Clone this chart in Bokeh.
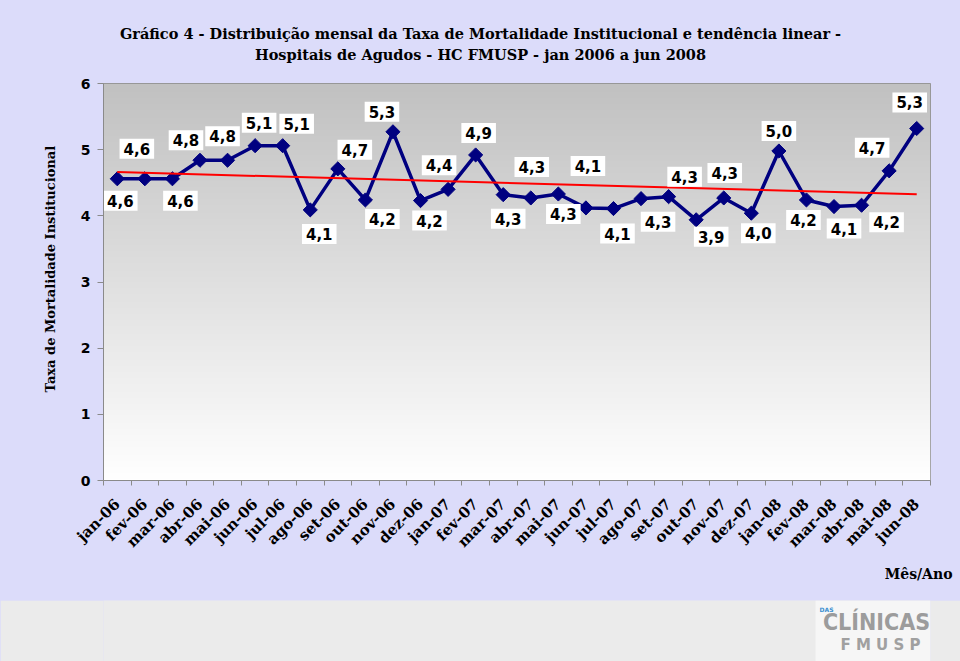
import numpy as np
from bokeh.plotting import figure
from bokeh.models import ColumnDataSource, Label, FixedTicker, Range1d, BoxAnnotation, Title
from bokeh.layouts import column
from bokeh.embed import file_html
from bokeh.resources import INLINE
from bokeh.core.properties import value

# ---------------- data ----------------
months = ["jan-06", "fev-06", "mar-06", "abr-06", "mai-06", "jun-06", "jul-06", "ago-06",
          "set-06", "out-06", "nov-06", "dez-06", "jan-07", "fev-07", "mar-07", "abr-07",
          "mai-07", "jun-07", "jul-07", "ago-07", "set-07", "out-07", "nov-07", "dez-07",
          "jan-08", "fev-08", "mar-08", "abr-08", "mai-08", "jun-08"]
rates = [4.56, 4.56, 4.56, 4.84, 4.84, 5.06, 5.06, 4.09, 4.71, 4.24, 5.27, 4.23, 4.40, 4.92,
         4.32, 4.27, 4.33, 4.12, 4.11, 4.26, 4.29, 3.94, 4.27, 4.04, 4.98, 4.24, 4.14, 4.16,
         4.68, 5.32]
y_ticks = [0, 1, 2, 3, 4, 5, 6]

# label placement (screen px offsets from each point; dy positive = above)
label_dx = [3, -8, 8, -14, -5, 4, 14, 9, 17, 17, -11, 9, -9, 3, 5, 1, 5, 2, 4, 17, 16, 15, 1, 7,
            0, -3, 10, 25, -17, -7]
label_dy = [-22, 30, -22, 20, 24, 23, 22, -24, 19, -19, 20, -20, 24, 22, -24, 31, -20, 42, -25,
            -23, 20, -17, 25, -20, 20, -20, -22, -17, 23, 26]

x = list(range(1, len(months) + 1))
labels = [f"{v:.1f}".replace(".", ",") for v in rates]

title1 = "Gráfico 4 - Distribuição mensal da Taxa de Mortalidade Institucional e tendência linear -"
title2 = "Hospitais de Agudos - HC FMUSP - jan 2006 a jun 2008"

LAV = "#DCDCFA"
GRAY = "#8A8A8A"
SERIF = "DejaVu Serif"
W = 960
TOP_H = 73
BL, BR = 103, 30          # left / right borders (frames are aligned in the column)
FX0, FX1 = BL, W - BR     # frame extent in page pixels

# ---------------- title strip ----------------
p0 = figure(width=W, height=TOP_H, x_range=Range1d(FX0, FX1), y_range=Range1d(0, TOP_H),
            toolbar_location=None, output_backend="svg", min_border=0,
            min_border_left=BL, min_border_right=BR)
p0.background_fill_color = LAV
p0.border_fill_color = LAV
p0.outline_line_color = None
p0.axis.visible = False
p0.grid.visible = False
for txt, yy in [(title1, TOP_H - 33), (title2, TOP_H - 54)]:
    p0.add_layout(Label(x=480, y=yy, text=txt, text_align="center", text_baseline="middle",
                        text_font=SERIF, text_font_style="bold", text_font_size="14.5px",
                        text_color="black"))

# ---------------- main chart ----------------
p = figure(width=W, height=600 - TOP_H, x_range=Range1d(0.5, len(months) + 0.5),
           y_range=Range1d(0, 6), toolbar_location=None, output_backend="svg", title=None,
           min_border_left=BL, min_border_right=BR, min_border_top=83 - TOP_H,
           min_border_bottom=120)
p.border_fill_color = LAV
p.background_fill_color = "white"
p.outline_line_color = GRAY
p.outline_line_width = 1

# gradient background of the plot area (gray at top -> white at bottom)
n = 200
t = np.linspace(0, 1, n)
g = (255 - 62 * t).astype(np.uint8)
img = np.empty((n, 1), dtype=np.uint32)
view = img.view(dtype=np.uint8).reshape((n, 1, 4))
view[:, 0, 0] = g
view[:, 0, 1] = g
view[:, 0, 2] = g
view[:, 0, 3] = 255
p.image_rgba(image=[img], x=0.5, y=0, dw=len(months), dh=6)

# grid
p.xgrid.visible = False
p.ygrid.ticker = FixedTicker(ticks=y_ticks)
p.ygrid.grid_line_color = GRAY
p.ygrid.grid_line_width = 1

# y axis
p.yaxis.ticker = FixedTicker(ticks=y_ticks)
p.yaxis.axis_line_color = GRAY
p.yaxis.major_tick_line_color = GRAY
p.yaxis.major_tick_out = 6
p.yaxis.major_tick_in = 0
p.yaxis.minor_tick_line_color = None
p.yaxis.major_label_text_font = "DejaVu Sans"
p.yaxis.major_label_text_font_style = "bold"
p.yaxis.major_label_text_font_size = "14px"
p.yaxis.major_label_text_color = "black"
p.yaxis.major_label_standoff = 7

# x axis
p.xaxis.ticker = FixedTicker(ticks=x, minor_ticks=[v - 0.5 for v in x] + [len(months) + 0.5])
p.xaxis.major_label_overrides = {i: m for i, m in zip(x, months)}
p.xaxis.axis_line_color = GRAY
p.xaxis.major_tick_line_color = None
p.xaxis.minor_tick_line_color = GRAY
p.xaxis.minor_tick_out = 5
p.xaxis.minor_tick_in = 0
p.xaxis.major_label_orientation = np.pi / 4
p.xaxis.major_label_text_font = SERIF
p.xaxis.major_label_text_font_style = "bold"
p.xaxis.major_label_text_font_size = "15px"
p.xaxis.major_label_text_color = "black"
p.xaxis.major_label_standoff = 15

# series
src = ColumnDataSource(dict(x=x, y=rates, label=labels, dx=label_dx, dy=[-d for d in label_dy]))
p.line("x", "y", source=src, color="#000080", line_width=3.5)
p.scatter("x", "y", source=src, marker="square", angle=np.pi / 4, size=10,
          color="#000080")

# linear trend
coef = np.polyfit(x, rates, 1)
tx = [x[0], x[-1]]
p.line(tx, list(np.polyval(coef, tx)), color="#FF0000", line_width=2)

# data labels
p.text("x", "y", text="label", source=src, x_offset="dx", y_offset="dy",
       text_align="center", text_baseline="middle", text_font=value("DejaVu Sans"),
       text_font_style="bold", text_font_size="15px", text_color="black",
       background_fill_color="white", padding=4)

# axis titles
p.add_layout(Title(text="Taxa de Mortalidade Institucional", align="left", offset=88,
                   text_font=SERIF, text_font_style="bold", text_font_size="13px",
                   text_color="black", standoff=40), "left")
p.add_layout(Title(text="Mês/Ano", align="right", offset=-22,
                   text_font=SERIF, text_font_style="bold", text_font_size="14px",
                   text_color="black", standoff=7), "below")

# ---------------- bottom strip with logo ----------------
BOT_H = 61
p2 = figure(width=W, height=BOT_H, x_range=Range1d(FX0, FX1), y_range=Range1d(0, BOT_H),
            toolbar_location=None, output_backend="svg", min_border=0,
            min_border_left=BL, min_border_right=BR)
p2.background_fill_color = "#EBEBEB"
p2.border_fill_color = "#EBEBEB"
p2.outline_line_color = None
p2.axis.visible = False
p2.grid.visible = False
p2.add_layout(BoxAnnotation(left=815, right=FX1, bottom=0, top=BOT_H, fill_color="#F6F6F6",
                            fill_alpha=1, line_color=None))
p2.add_layout(Label(x=876, y=40, text="CLÍNICAS", text_align="center", text_baseline="middle",
                    text_font="DejaVu Sans Condensed", text_font_style="bold",
                    text_font_size="23px", text_color="#9C9C9C"))
p2.add_layout(Label(x=880, y=17, text="F M U S P", text_align="center", text_baseline="middle",
                    text_font="DejaVu Sans", text_font_style="bold",
                    text_font_size="15px", text_color="#A0A0A0"))
p2.add_layout(Label(x=826, y=52, text="DAS", text_align="center", text_baseline="middle",
                    text_font="DejaVu Sans", text_font_style="bold",
                    text_font_size="6px", text_color="#3A8FD0"))

layout = column(p0, p, p2, spacing=0, styles={"background-color": LAV})
open("out.html", "w").write(file_html(layout, INLINE))
